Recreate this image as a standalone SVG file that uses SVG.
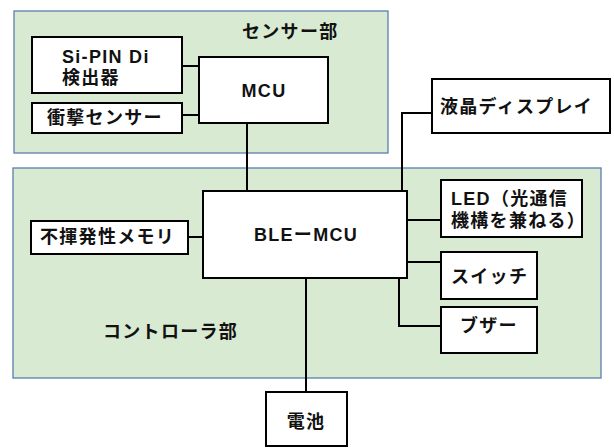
<svg xmlns="http://www.w3.org/2000/svg" width="614" height="448" viewBox="0 0 614 448">
<style>
.region{fill:#d9ead3;stroke:#5a7fb0;stroke-width:1.3}
.box{fill:#fff;stroke:#000;stroke-width:2}
.t{font-family:"Liberation Sans","Noto Sans CJK JP",sans-serif;font-weight:bold;font-size:18px;fill:#111;letter-spacing:1.3px}
.c{text-anchor:middle}
.wire{fill:none;stroke:#000;stroke-width:2}
</style>
<rect width="614" height="448" fill="#fff"/>
<g id="sensor-region">
<rect class="region" x="14" y="11" width="374" height="142"/>
<text class="t" x="242" y="38">センサー部</text>
</g>
<g id="controller-region">
<rect class="region" x="13" y="168" width="588" height="210"/>
<text class="t" x="103" y="338">コントローラ部</text>
</g>
<g id="connectors">
<path class="wire" d="M182 66H199M182 115H199M247 123V191M188 237H203M402 191V113H432M407 220H441M407 262H441M399 278V326H441M306 278V392"/>
</g>
<g id="sipin">
<rect class="box" x="32" y="37" width="150" height="56"/>
<text class="t"><tspan x="62" y="63">Si-PIN Di</tspan><tspan x="62" y="84">検出器</tspan></text>
</g>
<g id="shock">
<rect class="box" x="32" y="103" width="150" height="30"/>
<text class="t" x="47" y="124">衝撃センサー</text>
</g>
<g id="mcu">
<rect class="box" x="199" y="57" width="129" height="66"/>
<text class="t c" x="264" y="97">MCU</text>
</g>
<g id="ble-mcu">
<rect class="box" x="203" y="191" width="204" height="87"/>
<text class="t c" x="306" y="241">BLEーMCU</text>
</g>
<g id="memory">
<rect class="box" x="31" y="221" width="157" height="33"/>
<text class="t" x="40" y="243">不揮発性メモリ</text>
</g>
<g id="lcd">
<rect class="box" x="432" y="79" width="178" height="54"/>
<text class="t" x="440" y="113">液晶ディスプレイ</text>
</g>
<g id="led">
<rect class="box" x="441" y="180" width="141" height="57"/>
<text class="t"><tspan x="451" y="205">LED（光通信</tspan><tspan x="451" y="227">機構を兼ねる）</tspan></text>
</g>
<g id="switch">
<rect class="box" x="441" y="252" width="96" height="47"/>
<text class="t" x="451" y="283">スイッチ</text>
</g>
<g id="buzzer">
<rect class="box" x="441" y="307" width="96" height="46"/>
<text class="t" x="460" y="332">ブザー</text>
</g>
<g id="battery">
<rect class="box" x="266" y="392" width="81" height="54"/>
<text class="t c" x="306" y="428">電池</text>
</g>
</svg>
